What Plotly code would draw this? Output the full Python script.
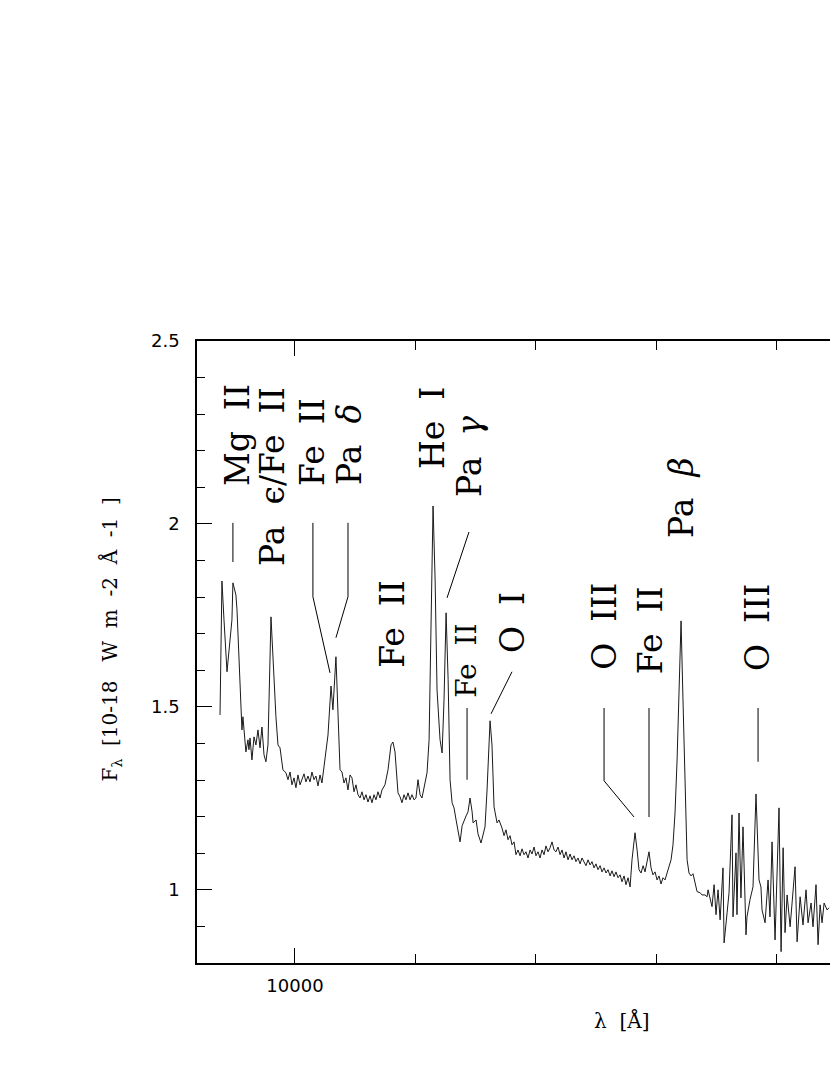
import plotly.graph_objects as go

# spectrum
wave = [9378, 9394, 9411, 9436, 9461, 9477, 9485, 9502, 9510, 9519, 9544, 9560, 9568, 9593, 9610,
        9618, 9627, 9643, 9660, 9676, 9693, 9710, 9726, 9743, 9759, 9776, 9801, 9826, 9842, 9859,
        9876, 9900, 9925, 9942, 9959, 9975, 9992, 10008, 10025, 10042, 10058, 10075, 10091, 10108,
        10125, 10141, 10158, 10174, 10191, 10208, 10224, 10249, 10274, 10299, 10315, 10340, 10357,
        10374, 10390, 10407, 10423, 10440, 10457, 10473, 10490, 10506, 10523, 10540, 10556, 10573,
        10589, 10606, 10623, 10639, 10656, 10672, 10689, 10706, 10722, 10747, 10772, 10797, 10813,
        10830, 10855, 10872, 10888, 10905, 10921, 10938, 10955, 10971, 10988, 11004, 11021, 11038,
        11054, 11079, 11096, 11113, 11129, 11146, 11163, 11179, 11204, 11221, 11237, 11254, 11271,
        11287, 11304, 11320, 11337, 11353, 11370, 11387, 11403, 11420, 11436, 11453, 11470, 11478,
        11503, 11519, 11544, 11561, 11577, 11594, 11610, 11619, 11635, 11652, 11677, 11693, 11718,
        11735, 11751, 11768, 11785, 11801, 11818, 11834, 11851, 11868, 11884, 11901, 11917, 11934,
        11951, 11967, 11984, 12000, 12017, 12034, 12050, 12067, 12083, 12100, 12117, 12133, 12150,
        12166, 12183, 12200, 12216, 12233, 12249, 12266, 12283, 12299, 12316, 12332, 12349, 12366,
        12382, 12399, 12415, 12432, 12449, 12465, 12482, 12498, 12515, 12532, 12548, 12565, 12581,
        12598, 12615, 12631, 12648, 12664, 12681, 12698, 12714, 12731, 12747, 12764, 12781, 12797,
        12822, 12839, 12855, 12872, 12889, 12905, 12922, 12938, 12955, 12971, 12988, 13005, 13021,
        13038, 13054, 13071, 13088, 13104, 13121, 13137, 13154, 13171, 13187, 13204, 13220, 13237,
        13254, 13270, 13287, 13303, 13320, 13337, 13362, 13378, 13403, 13420, 13428, 13445, 13461,
        13478, 13494, 13511, 13528, 13552, 13561, 13586, 13602, 13627, 13635, 13660, 13668, 13685,
        13701, 13718, 13743, 13751, 13776, 13801, 13826, 13851, 13867, 13876, 13901, 13926, 13942,
        13959, 13984, 14017, 14034, 14051, 14067, 14084, 14109, 14150, 14167, 14192, 14216, 14241,
        14258, 14283, 14299, 14324, 14341, 14358, 14374, 14391, 14416, 14432]
flux = [1.478, 1.844, 1.738, 1.596, 1.683, 1.738, 1.839, 1.820, 1.806, 1.765, 1.538, 1.437, 1.473,
        1.377, 1.410, 1.383, 1.415, 1.355, 1.418, 1.396, 1.437, 1.388, 1.445, 1.369, 1.350, 1.396,
        1.746, 1.574, 1.473, 1.396, 1.388, 1.328, 1.320, 1.301, 1.322, 1.287, 1.306, 1.279, 1.314,
        1.287, 1.301, 1.317, 1.295, 1.311, 1.295, 1.322, 1.301, 1.311, 1.284, 1.314, 1.292, 1.355,
        1.423, 1.557, 1.492, 1.637, 1.492, 1.328, 1.322, 1.292, 1.306, 1.273, 1.314, 1.306, 1.268,
        1.287, 1.260, 1.251, 1.268, 1.246, 1.260, 1.240, 1.257, 1.238, 1.260, 1.246, 1.268, 1.251,
        1.273, 1.287, 1.328, 1.396, 1.404, 1.377, 1.265, 1.254, 1.238, 1.260, 1.246, 1.265, 1.246,
        1.260, 1.246, 1.251, 1.301, 1.260, 1.251, 1.287, 1.320, 1.410, 1.738, 2.049, 1.847, 1.546,
        1.410, 1.374, 1.519, 1.757, 1.574, 1.301, 1.238, 1.224, 1.191, 1.164, 1.131, 1.175, 1.191,
        1.202, 1.213, 1.251, 1.213, 1.183, 1.191, 1.153, 1.128, 1.150, 1.172, 1.273, 1.423, 1.462,
        1.396, 1.227, 1.183, 1.191, 1.169, 1.148, 1.164, 1.137, 1.148, 1.123, 1.131, 1.096, 1.109,
        1.093, 1.112, 1.096, 1.104, 1.087, 1.109, 1.098, 1.117, 1.093, 1.104, 1.087, 1.109, 1.096,
        1.120, 1.104, 1.115, 1.131, 1.109, 1.104, 1.117, 1.096, 1.109, 1.087, 1.104, 1.082, 1.098,
        1.082, 1.093, 1.077, 1.087, 1.071, 1.087, 1.074, 1.066, 1.082, 1.068, 1.077, 1.060, 1.071,
        1.055, 1.066, 1.049, 1.060, 1.046, 1.055, 1.038, 1.052, 1.036, 1.049, 1.033, 1.041, 1.022,
        1.038, 1.014, 1.033, 1.008, 1.082, 1.156, 1.109, 1.055, 1.046, 1.066, 1.049, 1.077, 1.104,
        1.060, 1.041, 1.049, 1.027, 1.038, 1.016, 1.033, 1.027, 1.046, 1.066, 1.082, 1.123, 1.210,
        1.355, 1.574, 1.735, 1.519, 1.260, 1.082, 1.046, 1.038, 1.044, 1.022, 0.995, 0.992, 0.986,
        0.986, 0.981, 1.000, 0.973, 0.954, 1.014, 0.932, 1.000, 0.918, 1.060, 0.855, 0.937, 0.992,
        1.205, 0.926, 1.101, 0.932, 1.210, 0.978, 1.172, 0.877, 0.926, 0.973, 1.008, 1.262, 1.027,
        1.008, 0.945, 0.910, 1.027, 0.926, 1.131, 0.863, 1.224, 0.831, 1.115, 0.883, 0.986, 0.899,
        1.063, 0.858, 0.981, 0.904, 1.000, 0.910, 0.964, 0.899, 1.014, 0.850, 0.959, 0.910, 0.964,
        0.945, 0.951]

# line identifications: label, text position (wavelength, flux), font size
labels = ["Mg  II", "Pa  \u03f5/Fe  II", "Fe  II", "Pa  <i>\u03b4</i>", "Fe  II", "He  I",
          "Pa  <i>\u03b3</i>", "Fe  II", "O  I", "O  III", "Fe  II", "Pa  <i>\u03b2</i>", "O  III"]
label_wave = [9519, 9809, 10149, 10457, 10813, 11137, 11453, 11428, 11801, 12573, 12947, 13212, 13843]
label_flux = [2.243, 2.131, 2.224, 2.216, 1.727, 2.262, 2.183, 1.626, 1.732, 1.719, 1.710, 2.071, 1.716]
label_size = [33, 33, 33, 33, 33, 33, 33, 28, 33, 33, 33, 33, 33]

# marker lines pointing from labels to features
marker_wave = [[9485, 9485], [10149, 10149, 10291], [10440, 10440, 10340], [11444, 11262],
               [11428, 11428], [11801, 11627], [12565, 12565, 12814], [12938, 12938],
               [13843, 13843]]
marker_flux = [[2.003, 1.896], [2.003, 1.801, 1.593], [2.003, 1.801, 1.689], [1.978, 1.798],
               [1.497, 1.301], [1.596, 1.481], [1.497, 1.298, 1.199], [1.497, 1.199],
               [1.497, 1.350]]

fig = go.Figure()

fig.add_trace(go.Scatter(x=wave, y=flux, mode="lines",
                         line=dict(color="#1a1a1a", width=1), showlegend=False))

for mw, mf in zip(marker_wave, marker_flux):
    fig.add_trace(go.Scatter(x=mw, y=mf, mode="lines",
                             line=dict(color="black", width=1), showlegend=False))

for txt, lw, lf, fs in zip(labels, label_wave, label_flux, label_size):
    fig.add_annotation(x=lw, y=lf, text=txt, textangle=-90, showarrow=False,
                       xanchor="center", yanchor="middle",
                       font=dict(family="DejaVu Serif", size=fs, color="black"))

# axis titles
fig.add_annotation(x=0.67, y=-0.092, xref="paper", yref="paper", showarrow=False,
                   text="\u03bb  [\u00c5]", xanchor="center", yanchor="middle",
                   font=dict(family="DejaVu Serif", size=20, color="black"))
fig.add_annotation(x=-0.136, y=0.52, xref="paper", yref="paper", showarrow=False,
                   text="F<sub>\u03bb</sub>  [10-18   W  m  -2  \u00c5  -1  ]",
                   textangle=-90, xanchor="center", yanchor="middle",
                   font=dict(family="DejaVu Serif", size=20, color="black"))

fig.update_xaxes(range=[9187, 14440], showline=True, linecolor="black", linewidth=1.5,
                 mirror="ticks", ticks="inside", ticklen=15, tickwidth=1, tickcolor="black",
                 tick0=0, dtick=5000, tickformat="d", ticklabelstandoff=6,
                 minor=dict(dtick=1000, tick0=0, ticks="inside", ticklen=9, tickcolor="black"),
                 showgrid=False, zeroline=False,
                 tickfont=dict(family="DejaVu Sans", size=18, color="black"))
fig.update_yaxes(range=[0.8, 2.5], showline=True, linecolor="black", linewidth=1.5,
                 ticks="inside", ticklen=15, tickwidth=1, tickcolor="black",
                 tick0=0, dtick=0.5, ticklabelstandoff=12,
                 minor=dict(dtick=0.1, ticks="inside", ticklen=8, tickcolor="black"),
                 showgrid=False, zeroline=False,
                 tickfont=dict(family="DejaVu Sans", size=18, color="black"))

fig.update_layout(width=830, height=1075,
                  margin=dict(l=197, r=0, t=341, b=112),
                  plot_bgcolor="white", paper_bgcolor="white")

# drop the page's default body margin so the figure fills the window exactly
fig.write_html("out.html", config={"displayModeBar": False},
               post_script="document.body.style.margin='0';document.body.style.overflow='hidden';")
